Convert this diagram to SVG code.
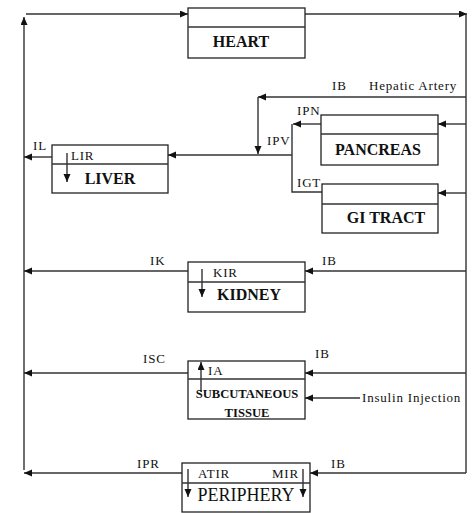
<svg xmlns="http://www.w3.org/2000/svg" width="474" height="513" viewBox="0 0 474 513" font-family="'Liberation Serif', 'Times New Roman', Times, 'DejaVu Serif', serif">
<defs>
<marker id="ah" markerUnits="userSpaceOnUse" markerWidth="9" markerHeight="8" refX="8" refY="3.5" orient="auto">
<path d="M0,0 L8,3.5 L0,7 z" fill="#111"/>
</marker>
<style>
.box{fill:#fff;stroke:#222;stroke-width:1.3}
.ln{fill:none;stroke:#333;stroke-width:1.4}
.ar{fill:none;stroke:#333;stroke-width:1.4;marker-end:url(#ah)}
text{font-family:'Liberation Serif','Times New Roman',Times,'DejaVu Serif',serif}
.lb{font-size:13px;letter-spacing:0.8px;fill:#111}
.tt{font-size:16px;font-weight:bold;fill:#111;text-anchor:middle}
.ts{font-size:12.6px;font-weight:bold;fill:#111;text-anchor:middle}
.tp{font-size:18px;fill:#111;text-anchor:middle}
</style>
</defs>
<rect width="474" height="513" fill="#fff"/>
<g id="connectors">
<path class="ar" d="M24,470 V17"/>
<path class="ar" d="M26,14 H188"/>
<path class="ar" d="M305,14 H467"/>
<path class="ln" d="M466,14 V473"/>
<path class="ar" d="M466,97 H258"/>
<path class="ar" d="M258,97 V154"/>
<path class="ar" d="M466,124 H438"/>
<path class="ar" d="M466,193 H438"/>
<path class="ar" d="M321,124 H293"/>
<path class="ln" d="M292,124 V192 H322"/>
<path class="ar" d="M292,155 H168"/>
<path class="ar" d="M52,157 H24"/>
<path class="ar" d="M466,271 H305"/>
<path class="ar" d="M188,271 H24"/>
<path class="ar" d="M466,373 H305"/>
<path class="ar" d="M188,373 H24"/>
<path class="ar" d="M360,398 H305"/>
<path class="ar" d="M466,473 H310"/>
<path class="ar" d="M182,473 H24"/>
<text class="lb" x="332" y="90">IB</text>
<text class="lb" x="369" y="90">Hepatic Artery</text>
<text class="lb" x="297" y="115">IPN</text>
<text class="lb" x="267" y="145">IPV</text>
<text class="lb" x="297" y="187">IGT</text>
<text class="lb" x="33" y="150">IL</text>
<text class="lb" x="150" y="265">IK</text>
<text class="lb" x="322" y="265">IB</text>
<text class="lb" x="143" y="363">ISC</text>
<text class="lb" x="315" y="358">IB</text>
<text class="lb" x="362" y="402">Insulin Injection</text>
<text class="lb" x="137" y="468">IPR</text>
<text class="lb" x="331" y="468">IB</text>
</g>
<g id="heart">
<rect class="box" x="188" y="8" width="117" height="50"/>
<path class="ln" d="M188,27 H305"/>
<text class="tt" x="241" y="47">HEART</text>
</g>
<g id="pancreas">
<rect class="box" x="321" y="115" width="117" height="50"/>
<path class="ln" d="M321,134 H438"/>
<text class="tt" x="378" y="155">PANCREAS</text>
</g>
<g id="gitract">
<rect class="box" x="322" y="184" width="116" height="49"/>
<path class="ln" d="M322,204 H438"/>
<text class="tt" x="386" y="223">GI TRACT</text>
</g>
<g id="liver">
<rect class="box" x="52" y="145" width="116" height="48"/>
<path class="ln" d="M52,164 H168"/>
<text class="lb" x="71" y="160">LIR</text>
<path class="ar" d="M67,153 V182"/>
<text class="tt" x="110" y="184">LIVER</text>
</g>
<g id="kidney">
<rect class="box" x="188" y="262" width="117" height="50"/>
<path class="ln" d="M188,282 H305"/>
<text class="lb" x="213" y="277">KIR</text>
<path class="ar" d="M202,269 V297"/>
<text class="tt" x="249" y="300">KIDNEY</text>
</g>
<g id="subcutaneous">
<rect class="box" x="188" y="361" width="117" height="58"/>
<path class="ln" d="M188,379 H305"/>
<text class="lb" x="208" y="375">IA</text>
<path class="ar" d="M201,392 V362"/>
<text class="ts" x="247" y="398">SUBCUTANEOUS</text>
<text class="ts" x="247" y="417">TISSUE</text>
</g>
<g id="periphery">
<rect class="box" x="182" y="463" width="128" height="49"/>
<path class="ln" d="M182,483 H310"/>
<text class="lb" x="198" y="478">ATIR</text>
<text class="lb" x="272" y="478">MIR</text>
<path class="ar" d="M188,469 V497"/>
<path class="ar" d="M303,469 V497"/>
<text class="tp" x="246" y="501">PERIPHERY</text>
</g>
</svg>
